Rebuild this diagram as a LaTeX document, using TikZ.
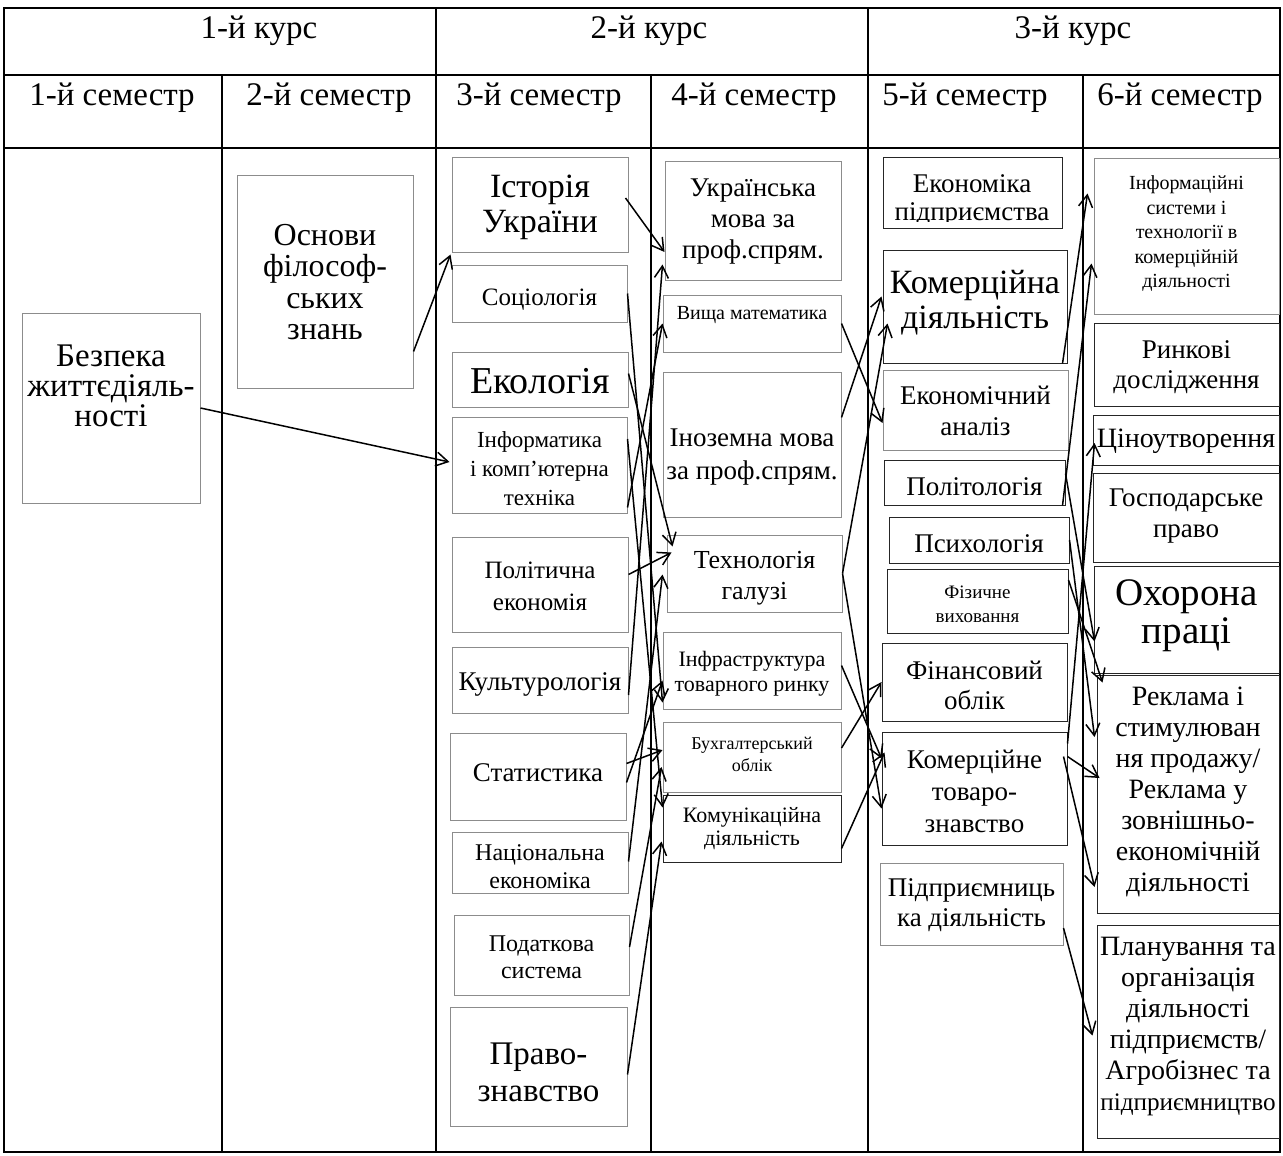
\documentclass[tikz,border=0pt]{standalone}
\usepackage{fontspec}
\setmainfont{Liberation Serif}
\usetikzlibrary{arrows.meta,calc,fit}
\newcommand\fs[2]{\fontsize{#1}{#2}\selectfont}
\def\subject[#1](#2)(#3)(#4)(#5)#6#7{%
  \node[subj,#1,fit={(#3) (#4)}] (#2) {};
  \begin{scope}
    \clip (#3) rectangle (#4);
    \node[font=#6, align=center, inner sep=0pt] (#2-t) at ($(#2)+(0,#5)$) {#7};
  \end{scope}}

\begin{document}
\begin{tikzpicture}[x=0.5pt, y=-0.5pt,
  subj/.style={draw=black!45, line width=0.5pt, inner sep=0pt},
  dark/.style={draw=black!85},
  hdr/.style={font=\fs{16.5}{19}},
  link/.style={-{Straight Barb[length=6pt,width=7pt]}, line width=0.75pt},
  rule/.style={line width=1pt}]
\useasboundingbox (0,0) rectangle (1283,1155);

%%%%% TABLE %%%%%
\draw[rule] (4,8) rectangle (1280,1152);
\draw[rule] (4,75) -- (1280,75);
\draw[rule] (4,148) -- (1280,148);
\draw[rule] (436,8) -- (436,1152);
\draw[rule] (868,8) -- (868,1152);
\foreach \x in {222,651,1083} \draw[rule] (\x,75) -- (\x,1152);

\node[hdr] (k1) at (259,31) {1-й курс};
\node[hdr] (k2) at (649,31) {2-й курс};
\node[hdr] (k3) at (1073,31) {3-й курс};
\node[hdr] (s1) at (112,98) {1-й семестр};
\node[hdr] (s2) at (329,98) {2-й семестр};
\node[hdr] (s3) at (539,98) {3-й семестр};
\node[hdr] (s4) at (754,98) {4-й семестр};
\node[hdr] (s5) at (965,98) {5-й семестр};
\node[hdr] (s6) at (1180,98) {6-й семестр};

%%%%% SUBJECTS %%%%%
\subject[](bzh)(22,313)(200,503)(-22){\fs{16.5}{15}}{Безпека\\життєдіяль-\\ності}
\subject[](osn)(237,176)(413,388)(0){\fs{16}{15.75}}{Основи\\філософ-\\ських\\знань}

\subject[](ist)(452,158)(628,252)(2){\fs{17}{17.5}}{Історія\\України}
\subject[](soc)(452,265)(627,322)(6){\fs{12.5}{15}}{Соціологія}
\subject[](eko)(452,352)(628,407)(2){\fs{19}{19}}{Екологія}
\subject[](inf)(452,417)(627,513)(4){\fs{11.5}{14.5}}{Інформатика\\і комп’ютерна\\техніка}
\subject[](pol)(452,537)(628,632)(2){\fs{12.5}{16}}{Політична\\економія}
\subject[](kul)(452,647)(628,713)(4){\fs{13.5}{15}}{Культурологія}
\subject[](stat)(450,733)(626,820)(-4){\fs{13.5}{15}}{Статистика}
\subject[](nac)(452,832)(628,893)(4){\fs{12}{14}}{Національна\\економіка}
\subject[](pod)(454,915)(629,995)(2){\fs{12}{13.5}}{Податкова\\система}
\subject[](prav)(450,1007)(627,1126)(6){\fs{16.5}{18.5}}{Право-\\знавство}

\subject[](ukr)(665,162)(841,280)(1){\fs{13.5}{15.5}}{Українська\\мова за\\проф.спрям.}
\subject[](vm)(663,295)(841,352)(-8){\fs{10}{12}}{Вища математика}
\subject[](inoz)(663,372)(841,517)(13){\fs{13.5}{16.5}}{Іноземна мова\\за проф.спрям.}
\subject[](tech)(667,535)(842,612)(5){\fs{13}{15.5}}{Технологія\\галузі}
\subject[](infr)(663,632)(841,709)(3){\fs{11}{12.5}}{Інфраструктура\\товарного ринку}
\subject[](buh)(663,722)(841,792)(-3){\fs{9}{11}}{Бухгалтерський\\облік}
\subject[dark](kom)(663,795)(841,862)(0){\fs{11}{11.5}}{Комунікаційна\\діяльність}

\node[subj,dark,fit={(883,158) (1062,228)}] (ekp) {};
\begin{scope}
  \clip (883,158) rectangle (1062,221);
  \node[font=\fs{13.5}{14}, align=center, inner sep=0pt] (ekp-t) at (972,200) {Економіка\\підприємства};
\end{scope}
\subject[dark](komd)(883,250)(1067,363)(-4){\fs{17}{17.5}}{Комерційна\\діяльність}
\subject[](ekan)(883,370)(1068,450)(1){\fs{13.5}{15.5}}{Економічний\\аналіз}
\subject[dark](polit)(884,460)(1065,505)(4){\fs{13.5}{15}}{Політологія}
\subject[dark](psyh)(889,517)(1069,563)(4){\fs{13.5}{15}}{Психологія}
\subject[dark](fiz)(887,569)(1068,633)(3){\fs{9.5}{12}}{Фізичне\\виховання}
\subject[dark](fin)(882,643)(1067,721)(3){\fs{13.5}{15}}{Фінансовий\\облік}
\subject[dark](komt)(882,732)(1067,845)(3){\fs{13.5}{16}}{Комерційне\\товаро-\\знавство}
\subject[](pidp)(880,863)(1063,945)(1){\fs{13.5}{15}}{Підприємниць\\ка діяльність}

\subject[](infs)(1094,159)(1279,314)(-3){\fs{10}{12.25}}{Інформаційні\\системи і\\технології в\\комерційній\\діяльності}
\subject[dark](rynk)(1094,323)(1279,406)(3){\fs{13.5}{15}}{Ринкові\\дослідження}
\subject[dark](cin)(1093,415)(1279,465)(1){\fs{14}{15}}{Ціноутворення}
\subject[dark](gosp)(1093,473)(1279,562)(-1){\fs{13.5}{15.5}}{Господарське\\право}
\subject[dark](ohor)(1094,566)(1279,673)(-4){\fs{19.5}{19}}{Охорона\\праці}
\subject[dark](rek)(1097,675)(1279,913)(-2){\fs{14}{15.5}}{Реклама і\\стимулюван\\ня продажу/\\Реклама у\\зовнішньо-\\економічній\\діяльності}
\subject[dark](plan)(1097,925)(1279,1138)(-5){\fs{14}{15.5}}{Планування та\\організація\\діяльності\\підприємств/\\Агробізнес та\\{\fs{12.6}{15.5}підприємництво}}

%%%%% LINKS %%%%%
\draw[link] (bzh.east) -- ($(inf.west)+(-2,-3)$);
\draw[link] ($(osn.south east)+(0,-37)$) -- ($(ist.south west)+(-1,2)$);

\draw[link] ($(ist.east)+(-3,-7)$) -- ($(ukr.west)+(0,31)$);
\draw[link] ($(kul.east)+(0,15)$) -- ($(ukr.south west)+(-2,-16)$);
\draw[link] ($(inf.south east)+(0,-6)$) -- (vm.west);
\draw[link] (soc.east) -- ($(infr.west)+(0,32)$);
\draw[link] ($(eko.east)+(0,-6)$) -- ($(tech.north west)+(6,12)$);
\draw[link] ($(pol.east)+(0,-10)$) -- ($(tech.north west)+(5,18)$);
\draw[link] ($(nac.north east)+(0,30)$) -- ($(tech.west)+(-4,1)$);
\draw[link] ($(stat.east)+(0,6)$) -- ($(infr.west)+(0,10)$);
\draw[link] ($(stat.east)+(0,-13)$) -- ($(buh.west)+(0,-7)$);
\draw[link] ($(pod.east)+(0,-8)$) -- ($(buh.west)+(-1,10)$);
\draw[link] ($(prav.east)+(0,8)$) -- ($(kom.west)+(-1,13)$);
\draw[link] ($(inf.east)+(0,-26)$) -- ($(kom.north west)+(0,13)$);

\draw[link] (vm.east) -- ($(ekan.west)+(0,13)$);
\draw[link] ($(inoz.east)+(0,-27)$) -- ($(komd.west)+(-1,-10)$);
\draw[link] (tech.east) -- ($(komd.west)+(5,17)$);
\draw[link] (tech.east) -- ($(komt.west)+(0,20)$);
\draw[link] ($(infr.east)+(0,-5)$) -- ($(komt.west)+(0,-30)$);
\draw[link] ($(buh.east)+(0,-9)$) -- (fin.west);
\draw[link] ($(kom.east)+(0,20)$) -- ($(komt.west)+(3,-36)$);

\draw[link] ($(komd.south east)+(-5,0)$) -- ($(infs.west)+(-6,-43)$);
\draw[link] ($(polit.south east)+(-3,0)$) -- ($(infs.west)+(-2,27)$);
\draw[link] ($(komt.north east)+(0,12)$) -- ($(cin.west)+(2,3)$);
\draw[link] ($(polit.east)+(0,-9)$) -- ($(ohor.west)+(1,22)$);
\draw[link] (psyh.east) -- ($(rek.west)+(-2,-57)$);
\draw[link] ($(fiz.east)+(0,-21)$) -- ($(rek.north west)+(6,8)$);
\draw[link] ($(komt.north east)+(0,25)$) -- ($(rek.west)+(3,-16)$);
\draw[link] ($(komt.north east)+(-4,25)$) -- ($(rek.west)+(-2,93)$);
\draw[link] ($(pidp.east)+(0,24)$) -- ($(plan.west)+(-4,4)$);
\end{tikzpicture}
\end{document}
